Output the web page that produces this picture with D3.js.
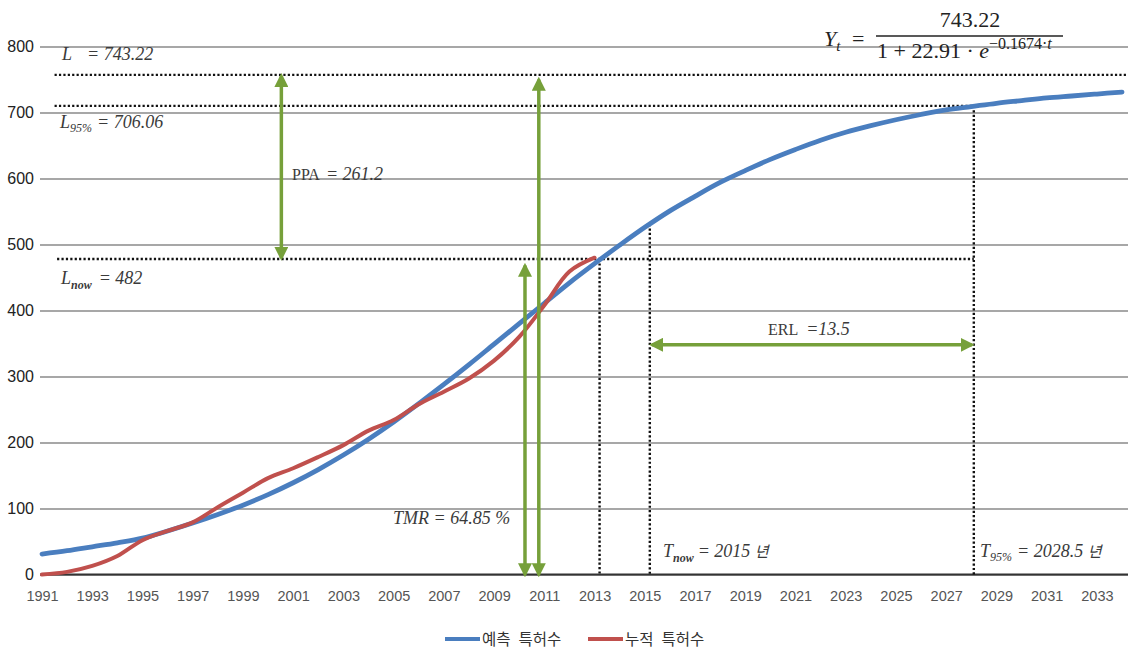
<!DOCTYPE html>
<meta charset="utf-8">
<style>
    body { margin: 0; background: #fff; }
    .grid line { stroke: #8a8a8a; stroke-width: 1.3; }
    .grid text { font: 16px "Liberation Sans", Arial, sans-serif; fill: #222; }
    .xaxis text { font: 14.5px "Liberation Sans", Arial, sans-serif; fill: #555; }
    .dotted { stroke: #111; stroke-width: 2.4; stroke-dasharray: 2.2,2.2; fill: none; }
    .arrow { stroke: #76a03a; stroke-width: 3.5; fill: none; }
    .note { font: italic 18px "Liberation Serif", "Times New Roman", serif; fill: #3a3a3a; }
    .note .up { font-style: normal; }
    .note .sub { font-size: 12px; }
    .note .kr { font-family: "Noto Sans CJK KR", sans-serif; font-size: 15px; }
    .formula { font: 22px "Liberation Serif", "Times New Roman", serif; fill: #222; }
    .legend text { font: 15.5px "Noto Sans CJK KR", sans-serif; fill: #333; }
</style>
<body>
<svg width="1128" height="650"></svg>
</body>
<script src="https://cdn.jsdelivr.net/npm/d3@7"></script>
<script>

    // forecast (logistic fit) 1991..2034
    var forecastYears = [1991, 1992, 1993, 1994, 1995, 1996, 1997, 1998, 1999, 2000,
        2001, 2002, 2003, 2004, 2005, 2006, 2007, 2008, 2009, 2010,
        2011, 2012, 2013, 2014, 2015, 2016, 2017, 2018, 2019, 2020,
        2021, 2022, 2023, 2024, 2025, 2026, 2027, 2028, 2029, 2030,
        2031, 2032, 2033, 2034];
    var forecast = [31, 36, 42, 48, 55, 66, 78, 91, 105, 121,
        139, 159, 181, 205, 231, 259, 288, 318, 349, 380,
        411, 442, 471, 499, 526, 551, 573, 594, 612, 629,
        644, 658, 670, 680, 689, 697, 704, 709, 714, 718,
        722, 725, 728, 731];

    // cumulative patents 1991..2013
    var actualYears = [1991, 1992, 1993, 1994, 1995, 1996, 1997, 1998, 1999, 2000,
        2001, 2002, 2003, 2004, 2005, 2006, 2007, 2008, 2009, 2010,
        2011, 2012, 2013];
    var actual = [0, 4, 13, 28, 52, 66, 79, 102, 124, 146,
        161, 178, 196, 218, 234, 258, 277, 297, 324, 360,
        408, 459, 480];

    var yTicks = [0, 100, 200, 300, 400, 500, 600, 700, 800];
    var xTicks = [1991, 1993, 1995, 1997, 1999, 2001, 2003, 2005, 2007, 2009, 2011,
        2013, 2015, 2017, 2019, 2021, 2023, 2025, 2027, 2029, 2031, 2033];

    // annotation levels (as drawn)
    var levelL = 757, level95 = 710, levelNow = 478;
    var tNowFit = 2013.2, tNow = 2015.2, t95 = 2028.1;

    var svg = d3.select("svg"),
        width = +svg.attr("width");

    var x = d3.scaleLinear().domain([1991, 2034]).range([42, 1122]);
    var y = d3.scaleLinear().domain([0, 800]).range([574.5, 46.5]);
    var left = 40;

    // gridlines + y labels
    svg.append("g")
        .attr("class", "grid")
        .attr("transform", "translate(" + left + ",0)")
        .call(d3.axisLeft(y).tickValues(yTicks).tickSize(-(width - left)).tickPadding(6))
        .call(function (g) { g.select(".domain").remove(); });

    svg.append("line")
        .attr("x1", left).attr("x2", width)
        .attr("y1", y(0)).attr("y2", y(0))
        .attr("stroke", "#333").attr("stroke-width", 2);

    svg.append("g")
        .attr("class", "xaxis")
        .attr("transform", "translate(0," + y(0) + ")")
        .call(d3.axisBottom(x).tickValues(xTicks).tickFormat(d3.format("d")).tickSize(0).tickPadding(16))
        .call(function (g) { g.select(".domain").remove(); });

    // dotted reference lines
    var dots = svg.append("g");
    dots.append("line").attr("class", "dotted")
        .attr("x1", x(1991.5)).attr("x2", width).attr("y1", y(levelL)).attr("y2", y(levelL));
    dots.append("line").attr("class", "dotted")
        .attr("x1", x(1991.5)).attr("x2", x(t95)).attr("y1", y(level95)).attr("y2", y(level95));
    dots.append("line").attr("class", "dotted")
        .attr("x1", x(1991.6)).attr("x2", x(t95)).attr("y1", y(levelNow)).attr("y2", y(levelNow));
    dots.append("line").attr("class", "dotted")
        .attr("x1", x(tNowFit)).attr("x2", x(tNowFit)).attr("y1", y(levelNow)).attr("y2", y(0));
    dots.append("line").attr("class", "dotted")
        .attr("x1", x(tNow)).attr("x2", x(tNow)).attr("y1", y(531)).attr("y2", y(0));
    dots.append("line").attr("class", "dotted")
        .attr("x1", x(t95)).attr("x2", x(t95)).attr("y1", y(level95)).attr("y2", y(0));

    // series
    var line = d3.line()
        .x(function (d) { return x(d[0]); })
        .y(function (d) { return y(d[1]); })
        .curve(d3.curveCatmullRom);

    svg.append("path")
        .datum(d3.zip(forecastYears, forecast))
        .attr("d", line)
        .attr("fill", "none").attr("stroke", "#4a7ebf").attr("stroke-width", 4.8)
        .attr("stroke-linecap", "round");

    svg.append("path")
        .datum(d3.zip(actualYears, actual))
        .attr("d", line)
        .attr("fill", "none").attr("stroke", "#c0504d").attr("stroke-width", 4)
        .attr("stroke-linecap", "round");

    // green arrows
    var defs = svg.append("defs");
    defs.append("marker")
        .attr("id", "head")
        .attr("viewBox", "0 0 10 10")
        .attr("refX", 8).attr("refY", 5)
        .attr("markerWidth", 4).attr("markerHeight", 4)
        .attr("markerUnits", "strokeWidth")
        .attr("orient", "auto-start-reverse")
        .append("path").attr("d", "M0,0 L10,5 L0,10 Z").attr("fill", "#76a03a");

    function arrow(x1, y1, x2, y2) {
        svg.append("line").attr("class", "arrow")
            .attr("x1", x1).attr("y1", y1).attr("x2", x2).attr("y2", y2)
            .attr("marker-start", "url(#head)")
            .attr("marker-end", "url(#head)");
    }
    arrow(x(2000.53), y(levelL) + 1, x(2000.53), y(levelNow) - 1);
    arrow(x(2010.23), y(0), x(2010.23), y(468));
    arrow(x(2010.78), y(0), x(2010.78), y(750));
    arrow(x(tNow) + 2, y(348), x(t95) - 2, y(348));

    // notes
    function note(px, py) {
        return svg.append("text").attr("class", "note").attr("x", px).attr("y", py);
    }
    var t;
    t = note(62, 60);
    t.append("tspan").text("L");
    t.append("tspan").attr("x", 87).text("= 743.22");

    t = note(60, 128);
    t.append("tspan").text("L");
    t.append("tspan").attr("class", "sub").attr("dy", 4).text("95%");
    t.append("tspan").attr("dy", -4).attr("dx", 5).text("= 706.06");

    t = note(61, 284);
    t.append("tspan").text("L");
    t.append("tspan").attr("class", "sub").attr("dy", 5).style("font-weight", "bold").text("now");
    t.append("tspan").attr("dy", -5).attr("dx", 7).text("= 482");

    t = note(292, 180);
    t.append("tspan").attr("class", "up").style("font-size", "16px").text("PPA");
    t.append("tspan").attr("dx", 6).text("= 261.2");

    t = note(768, 335);
    t.append("tspan").attr("class", "up").style("font-size", "16px").text("ERL");
    t.append("tspan").attr("dx", 8).text("=13.5");

    note(393, 524).text("TMR = 64.85 %");

    t = note(663, 557);
    t.append("tspan").text("T");
    t.append("tspan").attr("class", "sub").attr("dy", 5).style("font-weight", "bold").text("now");
    t.append("tspan").attr("dy", -5).attr("dx", 4).text("= 2015 ");
    t.append("tspan").attr("class", "kr").text("년");

    t = note(980, 557);
    t.append("tspan").text("T");
    t.append("tspan").attr("class", "sub").attr("dy", 4).text("95%");
    t.append("tspan").attr("dy", -4).attr("dx", 5).text("= 2028.5 ");
    t.append("tspan").attr("class", "kr").text("년");

    // formula
    var f = svg.append("g").attr("class", "formula");
    var yt = f.append("text").attr("x", 824).attr("y", 46);
    yt.append("tspan").style("font-style", "italic").text("Y");
    yt.append("tspan").style("font-style", "italic").style("font-size", "15px").attr("dy", 5).text("t");
    f.append("text").attr("x", 852).attr("y", 46).text("=");
    f.append("text").attr("x", 970).attr("y", 27).attr("text-anchor", "middle").text("743.22");
    f.append("line").attr("x1", 876).attr("x2", 1063).attr("y1", 36).attr("y2", 36)
        .attr("stroke", "#222").attr("stroke-width", 1.3);
    var den = f.append("text").attr("x", 877).attr("y", 58);
    den.append("tspan").text("1 + 22.91 \u00b7 ");
    den.append("tspan").style("font-style", "italic").text("e");
    den.append("tspan").attr("dy", -9).style("font-size", "16px").text("\u22120.1674\u00b7");
    den.append("tspan").style("font-size", "16px").style("font-style", "italic").text("t");

    // legend
    var legendItems = [["예측", "특허수", "#4a7ebf", 445], ["누적", "특허수", "#c0504d", 588]];
    var lg = svg.append("g").attr("class", "legend");
    legendItems.forEach(function (d) {
        lg.append("line").attr("x1", d[3]).attr("x2", d[3] + 35).attr("y1", 639).attr("y2", 639)
            .attr("stroke", d[2]).attr("stroke-width", 4);
        var txt = lg.append("text").attr("x", d[3] + 37).attr("y", 645);
        txt.append("tspan").text(d[0]);
        txt.append("tspan").attr("dx", 8).text(d[1]);
    });

</script>
